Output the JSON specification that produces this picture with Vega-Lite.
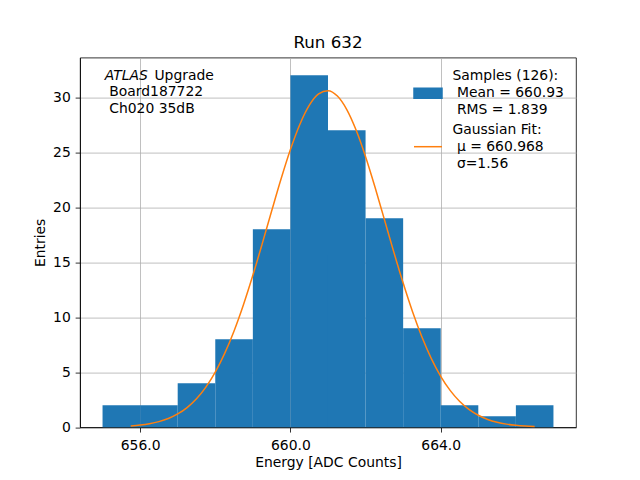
{
  "$schema": "https://vega.github.io/schema/vega-lite/v6.json",
  "width": 496,
  "height": 369.6,
  "autosize": {"type": "none"},
  "padding": {"left": 80, "top": 57.6, "right": 64, "bottom": 52.8},
  "background": "white",
  "title": {"text": "Run 632", "font": "DejaVu Sans", "fontSize": 16.7, "fontWeight": "normal", "color": "black", "anchor": "middle", "frame": "group", "offset": -7, "baseline": "alphabetic"},
  "config": {
    "view": {"stroke": "black", "strokeWidth": 0.8},
    "font": "DejaVu Sans",
    "axis": {"labelFont": "DejaVu Sans", "labelFontSize": 13.9, "labelColor": "black", "titleFont": "DejaVu Sans", "titleFontSize": 13.9, "titleFontWeight": "normal", "titleColor": "black", "tickColor": "black", "tickWidth": 0.8, "tickSize": 4.86, "domainColor": "black", "domainWidth": 0.8, "gridColor": "#b0b0b0", "gridWidth": 0.8, "gridOpacity": 1, "zindex": 1}
  },
  "datasets": {
    "hist": [
      {"x": 655, "x2": 656, "y": 2},
      {"x": 656, "x2": 657, "y": 2},
      {"x": 657, "x2": 658, "y": 4},
      {"x": 658, "x2": 659, "y": 8},
      {"x": 659, "x2": 660, "y": 18},
      {"x": 660, "x2": 661, "y": 32},
      {"x": 661, "x2": 662, "y": 27},
      {"x": 662, "x2": 663, "y": 19},
      {"x": 663, "x2": 664, "y": 9},
      {"x": 664, "x2": 665, "y": 2},
      {"x": 665, "x2": 666, "y": 1},
      {"x": 666, "x2": 667, "y": 2}
    ],
    "fit": [
      {"x": 655.75, "y": 0.114}, {"x": 656.0, "y": 0.192}, {"x": 656.25, "y": 0.316}, {"x": 656.5, "y": 0.506},
      {"x": 656.75, "y": 0.791}, {"x": 657.0, "y": 1.205}, {"x": 657.25, "y": 1.787}, {"x": 657.5, "y": 2.585},
      {"x": 657.75, "y": 3.645}, {"x": 658.0, "y": 5.009}, {"x": 658.25, "y": 6.707}, {"x": 658.5, "y": 8.754},
      {"x": 658.75, "y": 11.136}, {"x": 659.0, "y": 13.807}, {"x": 659.25, "y": 16.686}, {"x": 659.5, "y": 19.653},
      {"x": 659.75, "y": 22.561}, {"x": 660.0, "y": 25.242}, {"x": 660.25, "y": 27.525}, {"x": 660.5, "y": 29.254},
      {"x": 660.75, "y": 30.303}, {"x": 661.0, "y": 30.594}, {"x": 661.25, "y": 30.104}, {"x": 661.5, "y": 28.871},
      {"x": 661.75, "y": 26.987}, {"x": 662.0, "y": 24.586}, {"x": 662.25, "y": 21.832}, {"x": 662.5, "y": 18.893},
      {"x": 662.75, "y": 15.936}, {"x": 663.0, "y": 13.101}, {"x": 663.25, "y": 10.496}, {"x": 663.5, "y": 8.198},
      {"x": 663.75, "y": 6.24}, {"x": 664.0, "y": 4.63}, {"x": 664.25, "y": 3.346}, {"x": 664.5, "y": 2.358},
      {"x": 664.75, "y": 1.62}, {"x": 665.0, "y": 1.085}, {"x": 665.25, "y": 0.707}, {"x": 665.5, "y": 0.45},
      {"x": 665.75, "y": 0.279}, {"x": 666.0, "y": 0.168}, {"x": 666.25, "y": 0.099}, {"x": 666.5, "y": 0.057}
    ],
    "note": [{"x": 655.06, "y": 32.6}]
  },
  "layer": [
    {
      "data": {"name": "hist"},
      "mark": {"type": "bar"},
      "encoding": {
        "x": {"field": "x", "type": "quantitative", "scale": {"domain": [654.4, 667.6], "nice": false, "zero": false}, "axis": {"values": [656, 660, 664], "format": ".1f", "title": "Energy [ADC Counts]", "labelPadding": 6.4, "titlePadding": 3.5}},
        "x2": {"field": "x2"},
        "y": {"field": "y", "type": "quantitative", "scale": {"domain": [0, 33.6], "nice": false}, "axis": {"values": [0, 5, 10, 15, 20, 25, 30], "title": "Entries", "labelPadding": 4.86, "titlePadding": 5}},
        "y2": {"datum": 0},
        "color": {
          "datum": "A",
          "type": "nominal",
          "scale": {"domain": ["A", "B"], "range": ["#1f77b4", "#ff7f0e"]},
          "legend": {
            "title": null,
            "orient": "none",
            "legendX": 327.4,
            "legendY": 15,
            "padding": 5.6,
            "labelOffset": 9.5,
            "rowPadding": 5.5,
            "labelFont": "DejaVu Sans",
            "labelFontSize": 13.9,
            "labelColor": "black",
            "labelLimit": 0,
            "symbolSize": 784,
            "labelExpr": "datum.label === 'A' ? ['Samples (126):', '\u200b\u00a0Mean = 660.93', '\u200b\u00a0RMS = 1.839'] : ['Gaussian Fit:', '\u200b\u00a0μ = 660.968', '\u200b\u00a0σ=1.56']",
            "encode": {
              "symbols": {"update": {
                "shape": {"signal": "datum.value === 'A' ? 'M-1,-0.36L1,-0.36L1,0.36L-1,0.36Z' : 'M-1,0L1,0'"},
                "fill": {"signal": "datum.value === 'A' ? '#1f77b4' : 'transparent'"},
                "stroke": {"signal": "datum.value === 'A' ? 'transparent' : '#ff7f0e'"},
                "strokeWidth": {"value": 1.5},
                "opacity": {"value": 1}
              }},
              "labels": {"update": {"lineHeight": {"value": 17}, "dy": {"value": -17}}}
            }
          }
        }
      }
    },
    {
      "data": {"name": "fit"},
      "mark": {"type": "line", "strokeWidth": 1.5, "interpolate": "monotone"},
      "encoding": {
        "x": {"field": "x", "type": "quantitative"},
        "y": {"field": "y", "type": "quantitative"},
        "color": {"datum": "B", "type": "nominal"}
      }
    },
    {
      "data": {"name": "note"},
      "mark": {"type": "text", "text": "ATLAS", "font": "DejaVu Sans", "fontSize": 13.9, "fontStyle": "italic", "align": "left", "baseline": "top", "color": "black"},
      "encoding": {"x": {"field": "x", "type": "quantitative"}, "y": {"field": "y", "type": "quantitative"}}
    },
    {
      "data": {"name": "note"},
      "mark": {"type": "text", "text": "Upgrade", "font": "DejaVu Sans", "fontSize": 13.9, "align": "left", "baseline": "top", "dx": 49.6, "color": "black"},
      "encoding": {"x": {"field": "x", "type": "quantitative"}, "y": {"field": "y", "type": "quantitative"}}
    },
    {
      "data": {"name": "note"},
      "mark": {"type": "text", "text": ["\u200b\u00a0Board187722", "\u200b\u00a0Ch020 35dB"], "font": "DejaVu Sans", "fontSize": 13.9, "align": "left", "baseline": "top", "dy": 16.7, "lineHeight": 16.7, "color": "black"},
      "encoding": {"x": {"field": "x", "type": "quantitative"}, "y": {"field": "y", "type": "quantitative"}}
    }
  ]
}
